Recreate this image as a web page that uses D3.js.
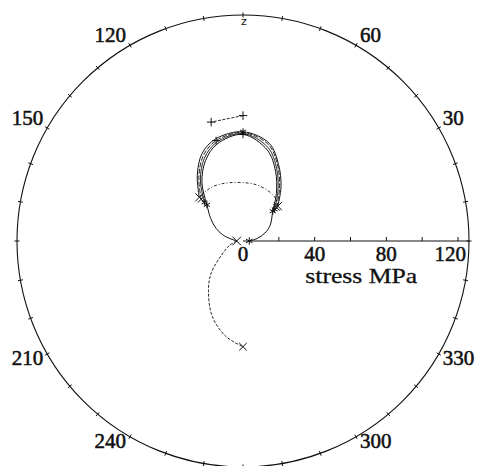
<!DOCTYPE html>
<html>
<head>
<meta charset="utf-8">
<script src="https://cdn.jsdelivr.net/npm/d3@7"></script>
<style>
  html, body { margin: 0; padding: 0; background: #fff; }
  text { font-family: "Liberation Serif", "Times New Roman", serif; fill: #111; }
</style>
</head>
<body>
<svg id="chart" width="479" height="466"></svg>
<script>
// ---------- data (direction in degrees, stress in MPa) ----------
const loopAngles = [45, 55, 65, 75, 90, 105, 115, 125, 135];
const loopA = [27.5, 37, 47, 56.5, 61, 59, 54, 44.5, 34.5];
const loopB = [26.5, 35.5, 46, 55.5, 60.5, 58, 52.5, 43, 33];
const loopC = [25, 34, 44.5, 54, 60, 57, 51, 41.5, 30.5];

const fullAngles = [0, 10, 20, 30, 45, 55, 65, 75, 90, 105, 115, 125, 135, 145, 155, 165, 180];
const loopD = [3.5, 8, 13, 17.5, 23.5, 32.5, 43, 52.5, 59.5, 56, 49.5, 40, 28.5, 22, 16.5, 10.5, 3.5];

const arcAngles = [45, 53, 65, 78, 90, 103, 112, 121, 135];
const arcStress = [27.5, 30, 31.5, 32.3, 32.6, 33.4, 34.2, 34.8, 34.5];

const topAngles = [90, 105];
const topStress = [70, 68.7];

const tailAngles = [180, 197, 211, 225, 235, 248, 260, 270];
const tailStress = [3.5, 7.6, 13, 25, 33.6, 45.6, 54.2, 59];

const angleTicks = d3.range(0, 360, 10);
const angleLabels = [30, 60, 120, 150, 210, 240, 300, 330];
const stressTicks = [20, 40, 60, 80, 100, 120];
const stressLabels = [0, 40, 80, 120];

// ---------- layout ----------
const cx = 243, cy = 241, R = 226;
const r = d3.scaleLinear().domain([0, 120]).range([0, 215]);
const rad = d => d * Math.PI / 180;
const px = (deg, s) => r(s) * Math.cos(rad(deg));
const py = (deg, s) => -r(s) * Math.sin(rad(deg));
const zip = (a, s) => a.map((d, i) => ({ deg: d, s: s[i] }));

const svg = d3.select("#chart");
const g = svg.append("g").attr("transform", `translate(${cx},${cy})`);
const ink = "#111";

// frame circle with 10-degree ticks
g.append("circle").attr("r", R).attr("fill", "none").attr("stroke", ink).attr("stroke-width", 1.1);
g.selectAll(".atick").data(angleTicks).enter().append("line")
  .attr("x1", d => (R - 2.5) * Math.cos(rad(d))).attr("y1", d => -(R - 2.5) * Math.sin(rad(d)))
  .attr("x2", d => (R + 2.5) * Math.cos(rad(d))).attr("y2", d => -(R + 2.5) * Math.sin(rad(d)))
  .attr("stroke", ink).attr("stroke-width", 1);

g.selectAll(".alabel").data(angleLabels).enter().append("text")
  .attr("x", d => R * Math.cos(rad(d)) + (Math.cos(rad(d)) < 0 ? -4 : 4))
  .attr("y", d => -R * Math.sin(rad(d)) + (Math.sin(rad(d)) > 0 ? -3 : 11))
  .attr("text-anchor", d => Math.cos(rad(d)) < 0 ? "end" : "start")
  .attr("font-size", 21)
  .attr("stroke", ink).attr("stroke-width", 0.55)
  .text(d => d);

g.append("text").attr("x", 1).attr("y", -R + 10)
  .attr("text-anchor", "middle").attr("font-size", 11)
  .style("font-family", "'DejaVu Sans', sans-serif")
  .text("z");

// radial stress axis along 0 degrees
g.append("line").attr("x1", r(0)).attr("y1", 0).attr("x2", R).attr("y2", 0)
  .attr("stroke", ink).attr("stroke-width", 1);
g.selectAll(".stick").data(stressTicks).enter().append("line")
  .attr("x1", d => r(d)).attr("x2", d => r(d)).attr("y1", 0).attr("y2", -4)
  .attr("stroke", ink).attr("stroke-width", 1);
g.selectAll(".slabel").data(stressLabels).enter().append("text")
  .attr("x", (d, i) => i === stressLabels.length - 1 ? R - 3 : r(d))
  .attr("y", 20)
  .attr("text-anchor", (d, i) => i === stressLabels.length - 1 ? "end" : "middle")
  .attr("font-size", 21)
  .attr("stroke", ink).attr("stroke-width", 0.55)
  .text(d => d);
g.append("text").attr("x", r(66)).attr("y", 42)
  .attr("text-anchor", "middle").attr("font-size", 21)
  .attr("textLength", 112).attr("lengthAdjust", "spacingAndGlyphs")
  .attr("stroke", ink).attr("stroke-width", 0.3)
  .text("stress MPa");

// curves
const radial = d3.lineRadial()
  .angle(d => rad(90 - d.deg))
  .radius(d => r(d.s))
  .curve(d3.curveCatmullRom.alpha(0.5));

function curve(data, dash, width) {
  g.append("path").datum(data)
    .attr("d", radial)
    .attr("fill", "none").attr("stroke", ink)
    .attr("stroke-width", width || 0.9)
    .attr("stroke-dasharray", dash || null);
}

curve(zip(loopAngles, loopA), null, 1);
curve(zip(loopAngles, loopB), "5,1.5", 0.9);
curve(zip(loopAngles, loopC), null, 0.9);
curve(zip(fullAngles, loopD), null, 1);
curve(zip(arcAngles, arcStress), "3,2,1,2", 0.9);
curve(zip(tailAngles, tailStress), "3,1.5", 0.9);
g.append("path").datum(zip(topAngles, topStress))
  .attr("d", d3.lineRadial().angle(d => rad(90 - d.deg)).radius(d => r(d.s)))
  .attr("fill", "none").attr("stroke", ink).attr("stroke-width", 0.9)
  .attr("stroke-dasharray", "3,1.5");

// markers
const symTimes = d3.symbolTimes || d3.symbolCross;
const symPlus = d3.symbolPlus || d3.symbolCross;
const symAster = d3.symbolAsterisk || d3.symbolCross;

function mark(deg, s, type, size) {
  g.append("path")
    .attr("d", d3.symbol().type(type).size(size)())
    .attr("transform", `translate(${px(deg, s)},${py(deg, s)})`)
    .attr("fill", "none").attr("stroke", ink).attr("stroke-width", 1);
}

const i45 = 0, i90 = loopAngles.indexOf(90), i105 = loopAngles.indexOf(105), i135 = loopAngles.length - 1;
mark(45, loopA[i45], symTimes, 44);
mark(135, loopA[i135], symTimes, 44);
mark(45, loopB[i45], symTimes, 30);
mark(135, loopB[i135], symTimes, 30);
mark(45, loopC[i45], symAster, 30);
mark(135, loopC[i135], symAster, 30);
mark(45, loopD[fullAngles.indexOf(45)], symAster, 34);
mark(135, loopD[fullAngles.indexOf(135)], symAster, 34);
mark(90, loopA[i90], symAster, 34);
mark(90, loopD[fullAngles.indexOf(90)], symPlus, 22);
mark(105, loopB[i105], symPlus, 22);
mark(0, loopD[0], symAster, 40);
mark(180, loopD[loopD.length - 1], symTimes, 50);
mark(topAngles[0], topStress[0], symPlus, 26);
mark(topAngles[1], topStress[1], symPlus, 26);
mark(tailAngles[tailAngles.length - 1], tailStress[tailStress.length - 1], symTimes, 40);
</script>
</body>
</html>
